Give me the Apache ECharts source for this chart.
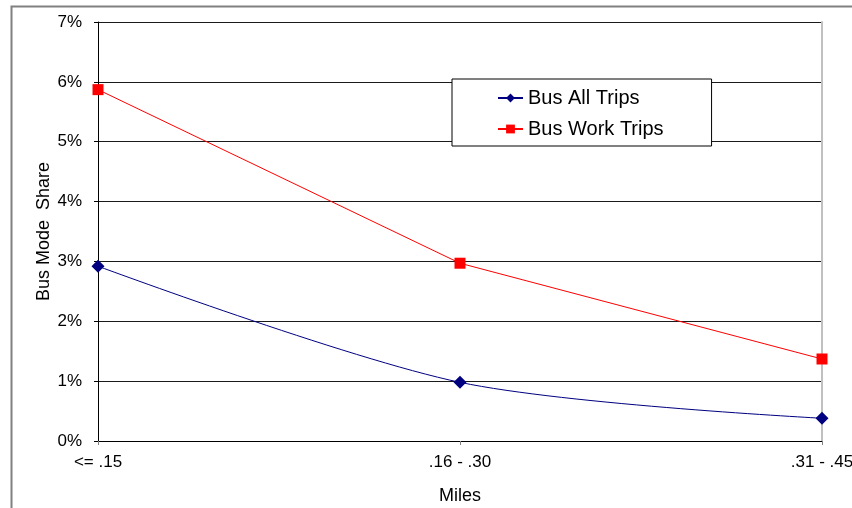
<!DOCTYPE html>
<html>
<head>
<meta charset="utf-8">
<script src="https://cdn.jsdelivr.net/npm/echarts@6/dist/echarts.min.js"></script>
<style>html,body{margin:0;padding:0;background:#fff;}#c{width:852px;height:508px;}</style>
</head>
<body>
<div id="c"></div>
<script>
var categories = ['<= .15', '.16 - .30', '.31 - .45'];
var busAllTrips = [2.92, 0.98, 0.38];
var busWorkTrips = [5.87, 2.97, 1.37];
var yTicks = { min: 0, max: 7, interval: 1 };

var chart = echarts.init(document.getElementById('c'), null, { renderer: 'canvas' });
var font = 'Liberation Sans, Arial, sans-serif';
chart.setOption({
  animation: false,
  backgroundColor: '#fff',
  textStyle: { fontFamily: font },
  graphic: [{
    type: 'rect', left: 9, top: 4, shape: { width: 900, height: 600 },
    style: { fill: 'none', stroke: '#808080', lineWidth: 2 }, z: -1
  }],
  grid: { left: 98, right: 30, top: 22, bottom: 67, containLabel: false, outerBoundsMode: 'none' },
  legend: {
    left: 452, top: 79, orient: 'vertical',
    padding: [9, 48, 7, 45], itemGap: 11, itemWidth: 25, itemHeight: 11,
    backgroundColor: '#fff', borderColor: '#000', borderWidth: 1,
    textStyle: { fontSize: 20, color: '#000', fontFamily: font },
    data: ['Bus All Trips', 'Bus Work Trips']
  },
  xAxis: {
    type: 'category', data: categories, boundaryGap: false,
    name: 'Miles', nameLocation: 'middle', nameGap: 46,
    nameTextStyle: { fontSize: 18, color: '#000' },
    axisLine: { lineStyle: { color: '#000', width: 1 } },
    axisTick: { show: true, length: 4, lineStyle: { color: '#808080' } },
    axisLabel: { fontSize: 17, color: '#000', margin: 13 },
    splitLine: { show: false }
  },
  yAxis: [{
    type: 'value', min: yTicks.min, max: yTicks.max, interval: yTicks.interval,
    name: 'Bus Mode  Share', nameLocation: 'middle', nameGap: 45, nameRotate: 90,
    nameMoveOverlap: false,
    nameTextStyle: { fontSize: 18, color: '#000' },
    axisLine: { show: true, lineStyle: { color: '#000', width: 1 } },
    axisTick: { show: true, length: 4, lineStyle: { color: '#000' } },
    axisLabel: { fontSize: 17, color: '#000', margin: 16, formatter: '{value}%' },
    splitLine: { show: true, lineStyle: { color: '#1a1a1a', width: 1 } }
  }, {
    type: 'value', position: 'right', min: yTicks.min, max: yTicks.max, interval: yTicks.interval,
    axisLine: { show: true, lineStyle: { color: '#c0c0c0', width: 2 } },
    axisTick: { show: false }, axisLabel: { show: false }, splitLine: { show: false }
  }],
  series: [{
    name: 'Bus All Trips', type: 'line', data: busAllTrips, smooth: 0.3,
    symbol: 'diamond', symbolSize: 13,
    itemStyle: { color: '#000080' }, lineStyle: { color: '#000080', width: 1 }
  }, {
    name: 'Bus Work Trips', type: 'line', data: busWorkTrips,
    symbol: 'rect', symbolSize: 11,
    itemStyle: { color: '#ff0000' }, lineStyle: { color: '#ff0000', width: 1 }
  }]
});
</script>
</body>
</html>
